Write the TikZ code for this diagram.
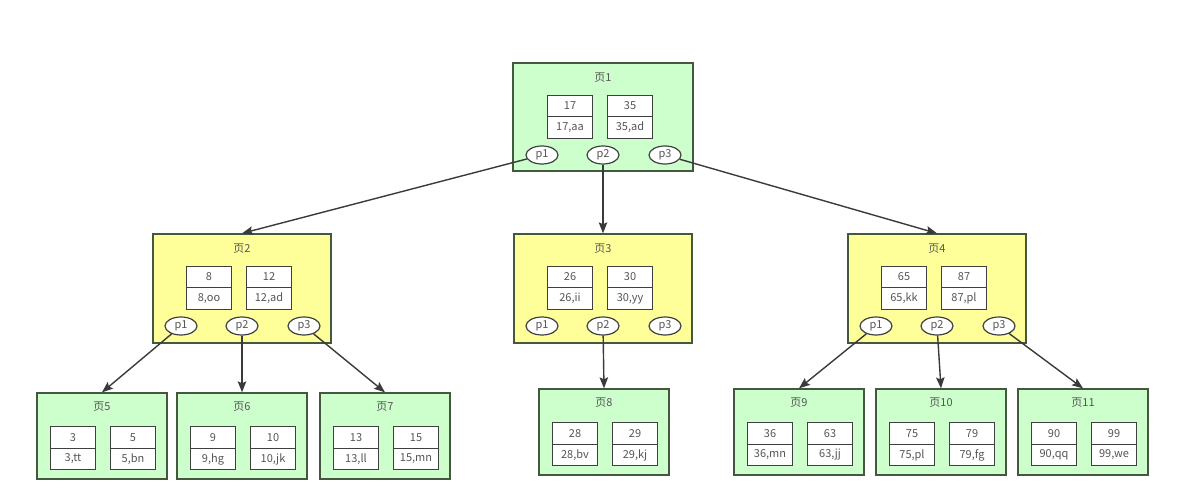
\documentclass[tikz,border=0pt]{standalone}
\usepackage{fontspec}
\setmainfont{Noto Sans CJK SC}
\usetikzlibrary{positioning,shapes.geometric,arrows.meta}

\definecolor{verdepag}{HTML}{CCFFCC}
\definecolor{amarpag}{HTML}{FFFF99}
\definecolor{bordepag}{HTML}{44573F}
\definecolor{bordecel}{HTML}{3F3F3F}
\definecolor{textopag}{HTML}{555555}
\definecolor{flecha}{HTML}{3A3A3A}

\begin{document}
\begin{tikzpicture}[x=1pt, y=-1pt,
  >={Stealth[length=11pt, width=8.5pt, inset=2pt]},
  pagina/.style={draw=bordepag, line width=1.3pt, inner sep=0pt},
  raiz/.style={pagina, fill=verdepag, minimum width=180, minimum height=108},
  interna/.style={pagina, fill=amarpag, minimum width=178, minimum height=109},
  hoja/.style={pagina, fill=verdepag, minimum width=130, minimum height=86},
  titulo/.style={text=textopag, inner sep=0pt, font=\fontsize{11}{12}\selectfont},
  celda/.style={draw=bordecel, fill=white, line width=1.2pt, inner sep=0pt,
    outer sep=0pt, minimum width=45, minimum height=21.5, text=textopag,
    font=\fontsize{11}{12}\selectfont},
  puntero/.style={ellipse, draw=bordecel, fill=white, line width=1.2pt,
    inner sep=0pt, minimum width=32, minimum height=18, text=textopag,
    font=\fontsize{11}{12}\selectfont},
  enlace/.style={->, draw=flecha, line width=1.4pt}]

  \useasboundingbox (0,0) rectangle (1185,497);

  % --- Pagina raiz ---
  \node[raiz] (pg1) at (603,117) {};
  \node[titulo] (t1) at (603,78) {页1};
  \node[celda] (cl1) at (570,106) {17};
  \node[celda, below=0pt of cl1] (vl1) {17,aa};
  \node[celda] (cr1) at (630,106) {35};
  \node[celda, below=0pt of cr1] (vr1) {35,ad};
  \node[puntero] (izq1) at (542,155) {p1};
  \node[puntero] (med1) at (603,155) {p2};
  \node[puntero] (der1) at (665,155) {p3};

  % --- Paginas internas ---
  \foreach \n/\cx/\ka/\va/\kb/\vb in
    {2/242/8/{8,oo}/12/{12,ad},
     3/603/26/{26,ii}/30/{30,yy},
     4/937/65/{65,kk}/87/{87,pl}} {
    \node[interna] (pg\n) at (\cx,288.5) {};
    \node[titulo] (t\n) at (\cx,249) {页\n};
    \node[celda] (cl\n) at (\cx-33,277) {\ka};
    \node[celda, below=0pt of cl\n] (vl\n) {\va};
    \node[celda] (cr\n) at (\cx+27,277) {\kb};
    \node[celda, below=0pt of cr\n] (vr\n) {\vb};
    \node[puntero] (izq\n) at (\cx-61,326) {p1};
    \node[puntero] (med\n) at (\cx,326) {p2};
    \node[puntero] (der\n) at (\cx+62,326) {p3};
  }

  % --- Paginas hoja ---
  \foreach \n/\cx/\tp/\ka/\va/\kb/\vb in
    {5/102/393/3/{3,tt}/5/{5,bn},
     6/242/393/9/{9,hg}/10/{10,jk},
     7/385/393/13/{13,ll}/15/{15,mn},
     8/604/389/28/{28,bv}/29/{29,kj},
     9/799/389/36/{36,mn}/63/{63,jj},
     10/941/389/75/{75,pl}/79/{79,fg},
     11/1083/389/90/{90,qq}/99/{99,we}} {
    \node[hoja] (pg\n) at (\cx,\tp+43) {};
    \node[titulo] (t\n) at (\cx,\tp+14) {页\n};
    \node[celda] (cl\n) at (\cx-29,\tp+44.5) {\ka};
    \node[celda, below=0pt of cl\n] (vl\n) {\va};
    \node[celda] (cr\n) at (\cx+31,\tp+44.5) {\kb};
    \node[celda, below=0pt of cr\n] (vr\n) {\vb};
  }

  % --- Enlaces ---
  \draw[enlace] (izq1) -- (pg2.north);
  \draw[enlace] (med1) -- (pg3.north);
  \draw[enlace] (der1) -- (pg4.north);

  \draw[enlace] (izq2) -- (pg5.north);
  \draw[enlace] (med2) -- (pg6.north);
  \draw[enlace] (der2) -- (pg7.north);

  \draw[enlace] (med3) -- (pg8.north);

  \draw[enlace] (izq4) -- (pg9.north);
  \draw[enlace] (med4) -- (pg10.north);
  \draw[enlace] (der4) -- (pg11.north);

\end{tikzpicture}
\end{document}
